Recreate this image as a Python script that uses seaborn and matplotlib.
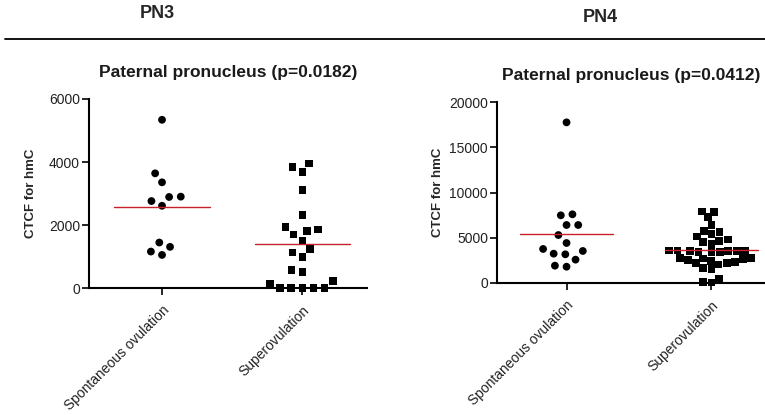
import numpy as np
import pandas as pd
import matplotlib
matplotlib.use("Agg")
import matplotlib.pyplot as plt
from matplotlib.lines import Line2D
import seaborn as sns

sns.set_theme(style="ticks")
plt.rcParams['font.family'] = ['Liberation Sans', 'DejaVu Sans']

categories = ["Spontaneous ovulation", "Superovulation"]

# PN3 paternal pronucleus
pn3_spont = [5340, 3640, 3355, 2890, 2900, 2760, 2610, 1444, 1306, 1157, 1050]
pn3_super = [3830, 3680, 3950, 3100, 2325, 1860, 1930, 1700, 1800, 1500, 1230,
             1125, 977, 563, 500, 223, 10, 10, 10, 10, 10, 138]

# PN4 paternal pronucleus
pn4_spont = [17750, 7590, 7480, 6410, 6410, 5300, 4420, 3760, 3240, 3170, 3540,
             2580, 1800, 1915]
pn4_super = [7850, 7900, 7250, 6450, 5750, 5650, 5400, 4800, 4550, 4350, 4650,
             5150, 3500, 3450, 3550, 3400, 3600, 3500, 3550, 3450, 3600, 2750,
             2650, 2450, 2250, 2800, 2200, 2300, 2500, 2700, 1700, 1550, 2050,
             500, 50, 100]

titles = ["Paternal pronucleus (p=0.0182)", "Paternal pronucleus (p=0.0412)"]
yticks = [[0, 2000, 4000, 6000], [0, 5000, 10000, 15000, 20000]]
ylims = [(0, 6000), (0, 20000)]

W, H = 765, 415
fig = plt.figure(figsize=(W / 100, H / 100), dpi=100)

def px_axes(x0, x1, ytop, ybot):
    return fig.add_axes([x0 / W, (H - ybot) / H, (x1 - x0) / W, (ybot - ytop) / H])

ax1 = px_axes(89, 367, 99, 288)
ax2 = px_axes(497, 765, 102, 283)

panels = [(ax1, pn3_spont, pn3_super, (-0.52, 1.46), 0, 0.34, -0.186, 2.4, 2.0),
          (ax2, pn4_spont, pn4_super, (-0.48, 1.37), 1, 0.32, -0.198, 2.4, 0.2)]
red = "#c8202c"

for ax, spont, sup, xl, i, hw, lx, lw1, lw2 in panels:
    sns.swarmplot(x=[categories[0]] * len(spont), y=spont, order=categories,
                  marker="o", color="black", size=5.6, linewidth=lw1,
                  edgecolor="none", ax=ax, warn_thresh=1.0)
    sns.swarmplot(x=[categories[1]] * len(sup), y=sup, order=categories,
                  marker="s", color="black", size=5.6, linewidth=lw2,
                  edgecolor="none", ax=ax, warn_thresh=1.0)
    for c in list(ax.collections):
        offs = np.asarray(c.get_offsets())
        if len(offs) == 0 or (len(offs) == 1 and np.allclose(offs, 0)):
            c.remove()
        else:
            c.set_clip_on(False)
    for k, vals in enumerate([spont, sup]):
        m = float(np.mean(vals))
        ax.plot([k - hw, k + hw], [m, m], color=red, lw=1.0, zorder=5)
    ax.set_xlim(*xl)
    ax.set_ylim(*ylims[i])
    ax.set_yticks(yticks[i])
    ax.set_yticklabels([str(t) for t in yticks[i]], fontsize=10)
    ax.set_xticks([0, 1])
    ax.set_xticklabels(categories, rotation=45, ha="right", rotation_mode="anchor",
                       fontsize=10)
    ax.set_xlabel("")
    ax.set_ylabel("CTCF for hmC", fontsize=9.5, fontweight="bold")
    ax.yaxis.set_label_coords(lx, 0.5)
    ax.set_title(titles[i], fontsize=12.5, pad=16, fontweight="bold", color="#1a1a1a")
    for s in ["top", "right"]:
        ax.spines[s].set_visible(False)
    for s in ["left", "bottom"]:
        ax.spines[s].set_linewidth(1.5)
        ax.spines[s].set_color("black")
    ax.tick_params(axis="y", direction="out", length=5, width=1.2, color="black",
                   labelcolor="#222222", pad=1.5)
    ax.tick_params(axis="x", direction="out", length=5, width=1.2, color="black",
                   labelcolor="#222222", pad=6)
    ax.set_facecolor("white")

fig.text(157 / W, 1 - 13 / H, "PN3", ha="center", va="center", fontsize=13,
         fontweight="bold")
fig.text(600 / W, 1 - 17 / H, "PN4", ha="center", va="center", fontsize=13,
         fontweight="bold")
fig.add_artist(Line2D([5 / W, 1.0], [1 - 39 / H, 1 - 39 / H], color="black", lw=1.3,
                      transform=fig.transFigure))

fig.savefig("out.png", dpi=100, facecolor="white")
